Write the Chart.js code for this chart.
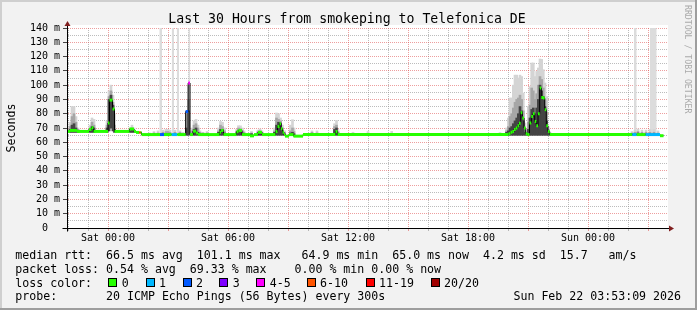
<!DOCTYPE html>
<html>
<head>
<meta charset="utf-8">
<script src="https://cdn.jsdelivr.net/npm/chart.js@4/dist/chart.umd.min.js"></script>
<style>
  html, body { margin: 0; padding: 0; background: #f2f2f2; }
  #wrap { position: relative; width: 697px; height: 310px; background: #f2f2f2; overflow: hidden;
          font-family: 'DejaVu Sans Mono', monospace; color: #000; }
  #wrap canvas { position: absolute; left: 0; top: 0; }
  .edge { position: absolute; }
  .t { position: absolute; white-space: pre; font-size: 11.6px; line-height: 14px; }
  .box { position: absolute; top: 278px; width: 9px; height: 9px; box-sizing: border-box; border: 1px solid #000; }
  #title { position: absolute; left: 0; top: 11px; width: 694px; text-align: center; font-size: 13.2px; line-height: 16px; white-space: pre; }
  #ylabel { position: absolute; left: -39.5px; top: 120.5px; width: 100px; text-align: center; font-size: 11.6px; line-height: 14px; transform: rotate(-90deg); }
  #mark { position: absolute; left: 683px; top: 5px; writing-mode: vertical-rl; font-size: 8.2px; line-height: 10px; color: #aaa; white-space: pre; }
</style>
</head>
<body>
<div id="wrap">
  <canvas id="chart" width="697" height="310"></canvas>
  <div class="edge" style="left:0;top:0;width:697px;height:2px;background:#cfcfcf"></div>
  <div class="edge" style="left:0;top:0;width:2px;height:310px;background:#cfcfcf"></div>
  <div class="edge" style="left:695px;top:0;width:2px;height:310px;background:#9e9e9e"></div>
  <div class="edge" style="left:0;top:308px;width:697px;height:2px;background:#9e9e9e"></div>
  <div id="title">Last 30 Hours from smokeping to Telefonica DE</div>
  <div id="ylabel">Seconds</div>
  <div id="mark">RRDTOOL / TOBI OETIKER</div>
  <div id="legend"></div>
</div>
<script>
// --- DATA (hours relative to Sat 00:00, values in ms) ---

// median rtt steps: [start hour, ms, loss class index]
const medianSteps = [
  [-2.05, 67.6, 0], [-1.9, 68.3, 0], [-1.55, 67.6, 0], [-0.95, 69.0, 0], [-0.825, 70.2, 0],
  [-0.725, 67.6, 0], [0.0, 73.5, 0], [0.075, 89.5, 0], [0.225, 83.3, 0], [0.325, 67.6, 0],
  [1.075, 69.3, 0], [1.3, 67.6, 0], [1.4, 66.9, 0], [1.565, 66.9, 5], [1.635, 66.9, 0],
  [1.675, 65.4, 0], [2.6, 65.4, 2], [2.8, 65.4, 0], [3.185, 65.4, 1], [3.465, 65.4, 0],
  [3.885, 81.5, 2], [4.01, 101.5, 4], [4.1, 65.4, 0], [4.25, 67.8, 0], [4.4, 66.5, 0],
  [4.5, 65.4, 0], [5.575, 67.0, 0], [5.65, 68.3, 0], [5.775, 65.4, 0], [6.425, 67.5, 0],
  [6.525, 68.3, 0], [6.7, 65.4, 0], [7.1, 64.5, 0], [7.3, 65.4, 0], [7.5, 67.0, 0],
  [7.7, 65.4, 0], [8.375, 67.5, 0], [8.475, 71.0, 0], [8.575, 73.0, 0], [8.65, 69.5, 0],
  [8.725, 67.0, 0], [8.8, 65.4, 0], [8.85, 64.3, 0], [9.05, 65.4, 0], [9.275, 64.3, 0],
  [9.75, 65.4, 0], [11.375, 67.5, 0], [11.475, 65.4, 0],
  [20.025, 66.0, 0], [20.125, 67.0, 0], [20.215, 67.5, 0], [20.3, 69.0, 0], [20.385, 70.0, 0],
  [20.475, 71.5, 0], [20.55, 73.3, 0], [20.635, 80.7, 0], [20.715, 77.0, 0], [20.8, 70.0, 0],
  [20.885, 66.0, 0], [20.965, 65.4, 0], [21.075, 73.5, 0], [21.165, 78.0, 0], [21.25, 80.0, 0],
  [21.335, 74.6, 0], [21.415, 71.6, 0], [21.5, 80.0, 0], [21.585, 98.0, 0], [21.665, 91.4, 0],
  [21.75, 91.0, 0], [21.835, 82.8, 0], [21.915, 71.6, 0], [22.0, 67.5, 0], [22.085, 65.4, 0],
  [26.215, 65.4, 1], [26.435, 65.4, 0], [26.885, 65.4, 1], [27.6, 64.6, 0]
];
const medianEnd = 27.775;

// smoke rows: [hour, low, light top, mid top, dark top]
const smokeRows = [
  [-1.9, 67, 74, 71, 69], [-1.8, 67, 85, 78, 72], [-1.7, 67, 85, 80, 73], [-1.6, 67, 78, 74, 70], [-1.5, 67, 70, 69, 68],
  [-0.9, 67, 72, 70, 69], [-0.8, 67, 77, 74, 71], [-0.7, 67, 76, 72, 70],
  [-0.05, 67, 75, 72, 70], [0.05, 68, 96, 92, 90], [0.15, 70, 100, 96, 93], [0.25, 68, 93, 88, 86], [0.325, 67, 80, 72, 69],
  [1.1, 67, 70, 69, 68], [1.2, 67, 72, 70, 69], [1.3, 67, 70, 68, 68],
  [2.1, 65, 66.5, 66, 65.5], [2.3, 65, 67.5, 66.5, 66], [2.5, 65, 68, 66.5, 66], [2.75, 65, 68.5, 67, 66],
  [2.9, 65, 69, 67.5, 66], [3.0, 65, 69, 67.5, 66], [3.1, 65, 68.5, 67, 66], [3.35, 65, 68.5, 67, 66],
  [3.6, 65, 68, 67, 66], [3.75, 65, 67, 66, 65.5],
  [3.925, 65, 82, 80, 70], [4.025, 65, 100, 90, 82],
  [4.2, 65, 70, 68, 66], [4.3, 65, 75, 72, 69], [4.4, 65, 76, 73, 70], [4.5, 65, 72, 70, 67], [4.6, 65, 68, 67, 66],
  [4.75, 65, 67, 66.5, 66], [4.95, 65, 67.5, 66.5, 66],
  [5.525, 65, 70, 68, 67], [5.625, 65, 74.6, 72, 69], [5.725, 65, 74, 71, 69], [5.825, 65, 70, 68, 66.5],
  [6.425, 65, 69, 67.5, 66.5], [6.525, 65, 71.6, 70, 68.5], [6.625, 65, 71.5, 69.5, 68], [6.725, 65, 70, 68, 66.5],
  [6.8, 65, 68, 67, 66], [7.175, 65, 67.6, 66.5, 66],
  [7.5, 65, 68.5, 67.5, 66.5], [7.6, 65, 69.3, 68, 67], [7.7, 65, 68, 67, 66],
  [8.325, 65, 70, 68, 67], [8.425, 65, 80.5, 77, 72], [8.525, 65, 80, 76, 74], [8.625, 65, 77, 75, 73.5],
  [8.725, 65, 72, 70, 68], [8.825, 65, 68, 67, 66],
  [9.125, 65, 72, 68, 66.5], [9.225, 65, 75.8, 70, 67], [9.3, 65, 70, 67.5, 66],
  [10.2, 65, 68, 67, 66], [10.45, 65, 68, 66.5, 66],
  [11.325, 65, 73, 71, 69], [11.425, 65, 75.3, 72, 70], [11.5, 65, 69, 67.5, 66.5],
  [12.25, 65, 67, 66, 65.5], [13.0, 65, 67.5, 66, 65.5], [14.185, 65, 67.6, 66, 65.5], [19.6, 65, 66.8, 66, 65.5],
  [19.925, 65, 70, 68, 67], [20.015, 65, 77, 71, 68], [20.1, 65, 91, 78, 70], [20.185, 65, 91, 80, 71],
  [20.265, 65, 100, 84, 73], [20.35, 65, 107, 88, 75], [20.435, 65, 107, 90, 77], [20.515, 65, 105, 91, 80],
  [20.6, 65, 107, 93, 85], [20.685, 65, 106, 90, 82], [20.765, 65, 94.5, 82, 75], [20.85, 65, 73.5, 69, 67],
  [20.935, 65, 68, 67, 66], [21.015, 65, 85, 74, 69], [21.1, 65, 99, 86, 77], [21.185, 65, 115.5, 98, 83],
  [21.265, 65, 115.5, 96, 84], [21.35, 65, 106, 90, 80], [21.435, 65, 109.6, 94, 84], [21.515, 65, 112, 100, 90],
  [21.6, 65, 118.3, 106, 100], [21.685, 65, 118, 104, 96], [21.765, 65, 110.8, 98, 92], [21.85, 65, 101.5, 90, 85],
  [21.935, 65, 92, 81, 75], [22.015, 65, 71, 69, 67.5], [22.1, 65, 67, 66, 65.5],
  [26.2, 65, 67.5, 66.5, 66], [26.35, 65, 68.5, 67, 66], [26.5, 65, 69.3, 67.5, 66.5], [26.7, 65, 68.5, 67, 66],
  [26.9, 65, 68.5, 67, 66], [27.1, 65, 69, 67, 66], [27.3, 65, 69, 67, 66], [27.5, 65, 68, 66.5, 66]
];

// periods with lost pings: [start hour, end hour]
const lossColumns = [
  [2.565, 2.70], [3.185, 3.30], [3.435, 3.55], [4.015, 4.115], [26.3, 26.435], [27.1, 27.435]
];
const lossColumnTop = 140;
const lossColumnBase = 65.4;

const lossColors = ['#26ff00', '#00b8ff', '#0059ff', '#7e00ff', '#ff00ff', '#ff5500', '#ff0000', '#a10000'];
const lossLabels = ['0', '1', '2', '3', '4-5', '6-10', '11-19', '20/20'];

const xTickHours = [-2, -1, 0, 1, 2, 3, 4, 5, 6, 7, 8, 9, 10, 11, 12, 13, 14, 15, 16, 17, 18, 19, 20, 21, 22, 23, 24, 25, 26, 27];
const xLabelHours = [0, 6, 12, 18, 24];
const xLabelTexts = ['Sat 00:00', 'Sat 06:00', 'Sat 12:00', 'Sat 18:00', 'Sun 00:00'];
const yTickValues = [0, 5, 10, 15, 20, 25, 30, 35, 40, 45, 50, 55, 60, 65, 70, 75, 80, 85, 90, 95, 100, 105, 110, 115, 120, 125, 130, 135, 140];
const yLabelValues = [0, 10, 20, 30, 40, 50, 60, 70, 80, 90, 100, 110, 120, 130, 140];
const yLabelTexts = ['0  ', '10 m', '20 m', '30 m', '40 m', '50 m', '60 m', '70 m', '80 m', '90 m', '100 m', '110 m', '120 m', '130 m', '140 m'];

const statLines = [
  'median rtt:  66.5 ms avg  101.1 ms max   64.9 ms min  65.0 ms now  4.2 ms sd  15.7   am/s',
  'packet loss: 0.54 % avg  69.33 % max    0.00 % min 0.00 % now',
  'loss color:',
  'probe:       20 ICMP Echo Pings (56 Bytes) every 300s'
];
const stampText = 'Sun Feb 22 03:53:09 2026';

// --- LEGEND TEXT ---
function buildLegend() {
  const legend = document.getElementById('legend');
  const lineTops = [247.5, 261.5, 275.5, 289.2];
  statLines.forEach((txt, i) => {
    const d = document.createElement('div');
    d.className = 't';
    d.style.left = '15.3px';
    d.style.top = lineTops[i] + 'px';
    d.textContent = txt;
    legend.appendChild(d);
  });
  const stamp = document.createElement('div');
  stamp.className = 't';
  stamp.style.right = '16px';
  stamp.style.top = lineTops[3] + 'px';
  stamp.textContent = stampText;
  legend.appendChild(stamp);

  const boxLefts = [108.3, 145.5, 182.5, 219.3, 256.3, 306.6, 365.6, 430.6];
  lossLabels.forEach((lab, i) => {
    const b = document.createElement('div');
    b.className = 'box';
    b.style.left = boxLefts[i] + 'px';
    b.style.background = lossColors[i];
    legend.appendChild(b);
    const t = document.createElement('div');
    t.className = 't';
    t.style.left = (boxLefts[i] + 13.5) + 'px';
    t.style.top = lineTops[2] + 'px';
    t.textContent = lab;
    legend.appendChild(t);
  });
}

// --- CHART ---
function buildChart() {
  const gridGray = 'rgba(143,143,143,0.6)';
  const gridRed = 'rgba(222,79,79,0.55)';

  const lightSmoke = smokeRows.map(r => ({ x: r[0], y: [r[1], r[2]] }));
  const midSmoke = smokeRows.map(r => ({ x: r[0], y: [r[1], r[3]] }));
  const darkSmoke = smokeRows.map(r => ({ x: r[0], y: [r[1], r[4]] }));

  const medianLine = medianSteps.map(s => ({ x: s[0], y: s[1] }));
  medianLine.push({ x: medianEnd, y: medianSteps[medianSteps.length - 1][1] });

  const medianSegs = [];
  medianSteps.forEach((s, i) => {
    const next = i + 1 < medianSteps.length ? medianSteps[i + 1][0] : medianEnd;
    medianSegs.push({ x: s[0], y: s[1], loss: s[2] });
    medianSegs.push({ x: next, y: s[1], loss: s[2] });
    medianSegs.push({ x: next, y: null, loss: s[2] });
  });

  const lossPoints = [];
  lossColumns.forEach(c => {
    lossPoints.push({ x: c[0], y: lossColumnTop });
    lossPoints.push({ x: c[1], y: lossColumnTop });
    lossPoints.push({ x: c[1], y: null });
  });

  const axisPlugin = {
    id: 'rrdAxes',
    beforeDraw(chart) {
      const { ctx, chartArea: a } = chart;
      ctx.save();
      ctx.fillStyle = '#ffffff';
      ctx.fillRect(a.left, a.top - 3, a.right - a.left, a.bottom - a.top + 3);
      ctx.restore();
    },
    afterDraw(chart) {
      const { ctx, chartArea: a } = chart;
      const ax = Math.round(a.left) + 0.5;
      const ay = Math.round(a.bottom) + 0.5;
      ctx.save();
      ctx.strokeStyle = '#000';
      ctx.lineWidth = 1;
      ctx.beginPath();
      ctx.moveTo(ax, ay + 3);
      ctx.lineTo(ax, a.top - 4);
      ctx.moveTo(ax - 5, ay);
      ctx.lineTo(a.right + 2, ay);
      ctx.stroke();
      ctx.fillStyle = '#801f1f';
      ctx.beginPath();
      ctx.moveTo(ax - 3, a.top - 2);
      ctx.lineTo(ax + 3, a.top - 2);
      ctx.lineTo(ax, a.top - 7);
      ctx.closePath();
      ctx.fill();
      ctx.beginPath();
      ctx.moveTo(a.right + 1, ay - 3);
      ctx.lineTo(a.right + 1, ay + 3);
      ctx.lineTo(a.right + 6, ay);
      ctx.closePath();
      ctx.fill();
      ctx.restore();
    }
  };

  Chart.defaults.font.family = "'DejaVu Sans Mono', monospace";
  Chart.defaults.color = '#000';

  new Chart(document.getElementById('chart'), {
    type: 'line',
    data: {
      datasets: [
        {
          type: 'line', data: medianSegs, order: 1,
          borderWidth: 3, borderColor: lossColors[0], borderCapStyle: 'butt',
          pointRadius: 0, fill: false,
          segment: { borderColor: c => lossColors[medianSegs[c.p0DataIndex].loss] }
        },
        {
          type: 'line', data: medianLine, order: 2, stepped: true,
          borderWidth: 1, borderColor: '#000', pointRadius: 0, fill: false
        },
        { type: 'bar', data: darkSmoke, order: 3, backgroundColor: '#444444', barThickness: 2, grouped: false, borderWidth: 0 },
        { type: 'bar', data: midSmoke, order: 4, backgroundColor: '#a6a6a6', barThickness: 2, grouped: false, borderWidth: 0 },
        { type: 'bar', data: lightSmoke, order: 5, backgroundColor: '#d4d4d4', barThickness: 2, grouped: false, borderWidth: 0 },
        {
          type: 'line', data: lossPoints, order: 6,
          borderWidth: 0, pointRadius: 0, backgroundColor: '#dcdcdc',
          fill: { value: lossColumnBase }
        }
      ]
    },
    options: {
      responsive: false,
      animation: false,
      events: [],
      layout: { padding: { left: 0, right: 29, top: 28, bottom: 0 } },
      plugins: { legend: { display: false }, tooltip: { enabled: false }, title: { display: false } },
      scales: {
        x: {
          type: 'linear', min: -2.05, max: 28.0, offset: false,
          afterFit: s => { s.height = 82; },
          afterBuildTicks: s => { s.ticks = xTickHours.map(v => ({ value: v })); },
          ticks: {
            autoSkip: false, maxRotation: 0, minRotation: 0, padding: 1,
            font: { size: 10 }, color: '#000',
            callback: v => { const i = xLabelHours.indexOf(v); return i >= 0 ? xLabelTexts[i] : ''; }
          },
          grid: {
            offset: false, lineWidth: 1, tickLength: 3,
            color: c => (c.tick && c.tick.value % 3 === 0) ? gridRed : gridGray,
            tickColor: c => (c.tick && c.tick.value % 3 === 0) ? gridRed : gridGray
          },
          border: { display: true, color: '#000', width: 1, dash: [1, 1] }
        },
        y: {
          type: 'linear', min: 0, max: 140,
          afterFit: s => { s.width = 67; },
          afterBuildTicks: s => { s.ticks = yTickValues.map(v => ({ value: v })); },
          ticks: {
            autoSkip: false, padding: 3, font: { size: 10 }, color: '#000',
            callback: v => { const i = yLabelValues.indexOf(v); return i >= 0 ? yLabelTexts[i] : ''; }
          },
          grid: {
            lineWidth: 1, tickLength: 4,
            color: c => (c.tick && c.tick.value % 10 === 0) ? gridRed : gridGray,
            tickColor: c => (c.tick && c.tick.value % 10 === 0) ? '#444' : 'rgba(0,0,0,0)'
          },
          border: { display: true, color: '#000', width: 1, dash: [1, 1] }
        }
      }
    },
    plugins: [axisPlugin]
  });
}

buildLegend();
buildChart();
</script>
</body>
</html>
